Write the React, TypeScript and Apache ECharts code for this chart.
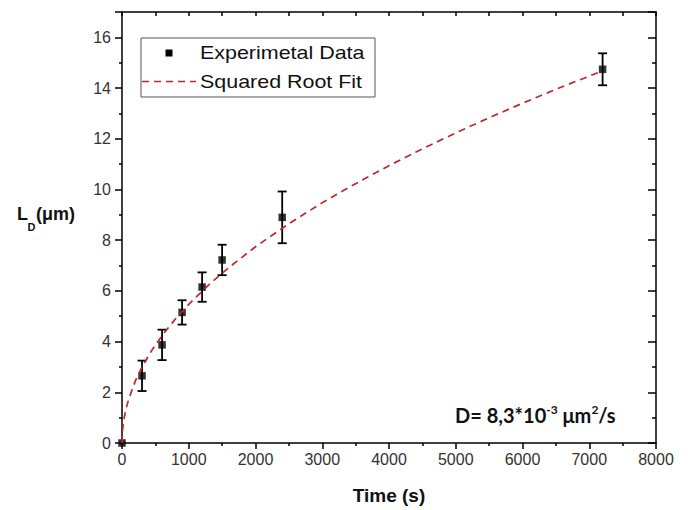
import React, { useEffect, useRef } from "react";
import * as echarts from "echarts";

const timeS = [0, 300, 600, 900, 1200, 1500, 2400, 7200];
const lengthUm = [0, 2.65, 3.87, 5.15, 6.15, 7.22, 8.9, 14.74];
const errUm = [0, 0.6, 0.6, 0.48, 0.58, 0.6, 1.02, 0.63];

// Square-root fit curve
const fitTime = [0, 10, 30, 60, 100, 200, 300, 450, 600, 800, 1000, 1300, 1600, 2000, 2500, 3000, 3500, 4000, 4500, 5000, 5500, 6000, 6500, 7000, 7200];
const fitL = [0, 0.55, 0.95, 1.34, 1.73, 2.45, 3.0, 3.67, 4.24, 4.89, 5.47, 6.24, 6.92, 7.74, 8.65, 9.48, 10.23, 10.94, 11.6, 12.23, 12.83, 13.4, 13.95, 14.47, 14.68];

const legendNames = ["Experimetal Data", "Squared Root Fit"];
const xTitle = "Time (s)";

const FONT = "'Liberation Sans', Arial, sans-serif";
const RED = "#c0282d";

export default function App() {
  const ref = useRef<HTMLDivElement>(null);
  useEffect(() => {
    if (!ref.current) return;
    const chart = echarts.init(ref.current, undefined, { renderer: "svg" });
    const axisLineStyle = { color: "#000", width: 1.5 };
    const labelStyle = { color: "#333", fontSize: 16, fontFamily: FONT, formatter: (v: number) => String(v) };
    chart.setOption({
      animation: false,
      backgroundColor: "#fff",
      grid: { left: 122, top: 12, width: 534, height: 431, containLabel: false },
      xAxis: [
        {
          type: "value", min: 0, max: 8000, interval: 1000, position: "bottom",
          axisLine: { show: true, onZero: false, lineStyle: axisLineStyle },
          axisTick: { show: true, inside: false, length: 6, lineStyle: axisLineStyle },
          minorTick: { show: true, splitNumber: 2, length: 3, lineStyle: axisLineStyle },
          axisLabel: { ...labelStyle, margin: 8 },
          splitLine: { show: false },
          name: xTitle, nameLocation: "middle", nameGap: 43,
          nameTextStyle: { fontSize: 19, fontWeight: "bold", color: "#111", fontFamily: FONT },
        },
        {
          type: "value", min: 0, max: 8000, interval: 1000, position: "top",
          axisLine: { show: true, onZero: false, lineStyle: axisLineStyle },
          axisTick: { show: true, inside: true, length: 4, lineStyle: axisLineStyle },
          minorTick: { show: true, splitNumber: 2, length: 4, lineStyle: axisLineStyle },
          axisLabel: { show: false },
          splitLine: { show: false },
        },
      ],
      yAxis: [
        {
          type: "value", min: 0, max: 17, interval: 2, position: "left",
          axisLine: { show: true, onZero: false, lineStyle: axisLineStyle },
          axisTick: { show: true, inside: false, length: 7, lineStyle: axisLineStyle },
          minorTick: { show: true, splitNumber: 2, length: 3, lineStyle: axisLineStyle },
          axisLabel: { ...labelStyle, margin: 11, showMaxLabel: false },
          splitLine: { show: false },
        },
        {
          type: "value", min: 0, max: 17, interval: 2, position: "right",
          axisLine: { show: true, onZero: false, lineStyle: axisLineStyle },
          axisTick: { show: true, inside: true, length: 8, lineStyle: axisLineStyle },
          minorTick: { show: true, splitNumber: 2, length: 4, lineStyle: axisLineStyle },
          axisLabel: { show: false },
          splitLine: { show: false },
        },
      ],
      series: [
        {
          name: legendNames[0] + " error",
          type: "custom",
          xAxisIndex: 0, yAxisIndex: 0,
          data: timeS.map((t, i) => [t, lengthUm[i], errUm[i]]).filter((d) => d[2] > 0),
          renderItem: (params: any, api: any) => {
            const x = api.value(0), y = api.value(1), e = api.value(2);
            const top = api.coord([x, y + e]);
            const bot = api.coord([x, y - e]);
            const hw = 4.5;
            const style = { stroke: "#000", lineWidth: 1.8 };
            return {
              type: "group",
              children: [
                { type: "line", shape: { x1: top[0], y1: top[1], x2: bot[0], y2: bot[1] }, style },
                { type: "line", shape: { x1: top[0] - hw, y1: top[1], x2: top[0] + hw, y2: top[1] }, style },
                { type: "line", shape: { x1: bot[0] - hw, y1: bot[1], x2: bot[0] + hw, y2: bot[1] }, style },
              ],
            };
          },
          z: 3,
        },
        {
          name: legendNames[0],
          type: "scatter",
          xAxisIndex: 0, yAxisIndex: 0,
          symbol: "rect",
          symbolSize: 7.5,
          itemStyle: { color: "#000" },
          data: timeS.map((t, i) => [t, lengthUm[i]]),
          z: 4,
        },
        {
          name: legendNames[1],
          type: "line",
          xAxisIndex: 0, yAxisIndex: 0,
          showSymbol: false,
          symbol: "none",
          smooth: false,
          lineStyle: { color: RED, width: 1.7, type: [7, 5] },
          data: fitTime.map((t, i) => [t, fitL[i]]),
          z: 5,
        },
      ],
      graphic: [
        // legend box
        { type: "rect", shape: { x: 141, y: 38, width: 234, height: 59 }, style: { fill: "#fff", stroke: "#555", lineWidth: 1 }, z: 10 },
        { type: "rect", shape: { x: 165.5, y: 49.5, width: 7, height: 7 }, style: { fill: "#000" }, z: 11 },
        { type: "line", shape: { x1: 142, y1: 81.5, x2: 196, y2: 81.5 }, style: { stroke: RED, lineWidth: 1.7, lineDash: [7, 5] }, z: 11 },
        { type: "text", x: 200, y: 53, scaleX: 1.16, style: { text: legendNames[0], fontSize: 18.5, fontFamily: FONT, fill: "#111", textVerticalAlign: "middle" }, z: 11 },
        { type: "text", x: 200, y: 81.5, scaleX: 1.16, style: { text: legendNames[1], fontSize: 18.5, fontFamily: FONT, fill: "#111", textVerticalAlign: "middle" }, z: 11 },
        // y axis title L_D (µm)
        { type: "text", x: 17, y: 223, style: { text: "L", fontSize: 18, fontWeight: "bold", fontFamily: FONT, fill: "#111", textVerticalAlign: "bottom" } },
        { type: "text", x: 27.5, y: 232, style: { text: "D", fontSize: 11, fontWeight: "bold", fontFamily: FONT, fill: "#111", textVerticalAlign: "bottom" } },
        { type: "text", x: 36, y: 223, style: { text: "(μm)", fontSize: 18, fontWeight: "bold", fontFamily: FONT, fill: "#111", textVerticalAlign: "bottom" } },
        // annotation
        {
          type: "text", x: 455, y: 403,
          style: {
            text: "{m|D= 8,3*10}{s|-3}{m| μm}{s|2}{m|/s}",
            fontFamily: "Lato, 'Liberation Sans', sans-serif",
            fill: "#111",
            rich: {
              m: { fontSize: 20, fontWeight: "bold", fontFamily: "Lato, 'Liberation Sans', sans-serif", fill: "#111", lineHeight: 22, verticalAlign: "bottom" },
              s: { fontSize: 12, fontWeight: "bold", fontFamily: "Lato, 'Liberation Sans', sans-serif", fill: "#111", lineHeight: 13, verticalAlign: "top" },
            },
          },
        },
      ],
    });
    return () => chart.dispose();
  }, []);
  return <div ref={ref} style={{ position: "fixed", left: 0, top: 0, width: 693, height: 510, background: "#fff" }} />;
}
